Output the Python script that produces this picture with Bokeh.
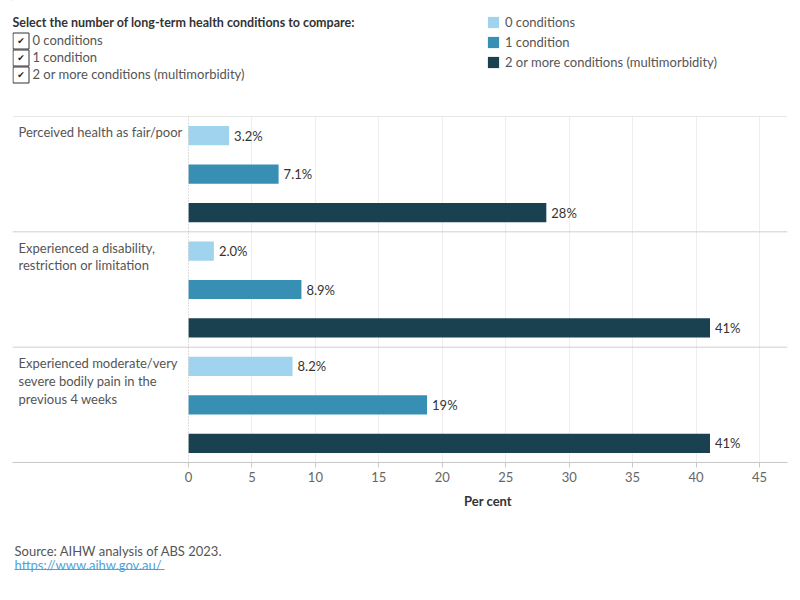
from bokeh.plotting import figure
from bokeh.models import ColumnDataSource, Range1d, FixedTicker, Span, Legend, LegendItem
from bokeh.layouts import column
from bokeh.embed import file_html
from bokeh.resources import INLINE
from bokeh.core.properties import value

# ---------------- data ----------------
categories = [
    "Perceived health as fair/poor",
    "Experienced a disability,\nrestriction or limitation",
    "Experienced moderate/very\nsevere bodily pain in the\nprevious 4 weeks",
]
series = ["0 conditions", "1 condition", "2 or more conditions (multimorbidity)"]
vals_0 = [3.2, 2.0, 8.2]
vals_1 = [7.1, 8.9, 18.8]
vals_2 = [28.2, 41.1, 41.1]
labels_0 = ["3.2%", "2.0%", "8.2%"]
labels_1 = ["7.1%", "8.9%", "19%"]
labels_2 = ["28%", "41%", "41%"]
x_ticks = [0, 5, 10, 15, 20, 25, 30, 35, 40, 45]
title_text = "Select the number of long-term health conditions to compare:"
source_text = "Source: AIHW analysis of ABS 2023."
link_text = "https://www.aihw.gov.au/"
axis_title = "Per cent"

colors = ["#a0d4ee", "#3790b4", "#1a4150"]
FONT = "Lato"
FS = "13px"
TXT = "#555555"

# frame of every panel is aligned to page x 12..787
FL, FR = 12, 787

# ---------------- header ----------------
hdr = figure(width=800, height=115, x_range=Range1d(FL, FR), y_range=Range1d(115, 0),
             output_backend="svg", toolbar_location=None, x_axis_location=None,
             y_axis_location=None, min_border=0)
hdr.outline_line_color = None
hdr.grid.visible = False

hdr.text(x=[12], y=[22], text=[title_text], text_font=value(FONT), text_font_size="12.5px",
         text_font_style="bold", text_color="#333333", text_baseline="middle")
box_y = [40.5, 57.5, 74.5]
hdr.rect(x=[20.5] * 3, y=box_y, width=16, height=16, fill_color="white",
         line_color="#333333", line_width=1)
hdr.text(x=[20.5] * 3, y=box_y, text=["\u2714"] * 3, text_font=value("DejaVu Sans"),
         text_font_size="9px", text_color="#222222", text_align="center",
         text_baseline="middle")
hdr.text(x=[32] * 3, y=[39.5, 56.5, 73.5], text=series, text_font=value(FONT),
         text_font_size=FS, text_color=TXT, text_baseline="middle")

dummies = []
for c in colors:
    r = hdr.hbar(y=[-1000], left=[0], right=[1], height=1, fill_color=c, line_color=None)
    dummies.append(r)
legend = Legend(items=[LegendItem(label=s, renderers=[r]) for s, r in zip(series, dummies)],
                location=(486 - FL, 45), padding=0, margin=0, spacing=4,
                glyph_width=14, glyph_height=14, label_height=14, label_standoff=5,
                label_text_font=FONT, label_text_font_size=FS, label_text_color=TXT,
                border_line_alpha=0, background_fill_alpha=0)
hdr.add_layout(legend)

# ---------------- main chart ----------------
PX = (759 - 188) / 45.0
x_start = -(188 - FL) / PX
x_end = (FR - 188) / PX

p = figure(width=800, height=377, x_range=Range1d(x_start, x_end), y_range=Range1d(9, 0),
           output_backend="svg", toolbar_location=None, y_axis_location=None,
           min_border_left=FL, min_border_right=800 - FR, min_border_top=1, min_border_bottom=30)
p.outline_line_color = None
p.ygrid.visible = False
p.xgrid.ticker = FixedTicker(ticks=x_ticks[1:])
p.xgrid.grid_line_color = "#eeeeee"

ax = p.xaxis[0]
ax.ticker = FixedTicker(ticks=x_ticks)
ax.axis_line_color = "#c8c8c8"
ax.major_tick_line_color = "#c8c8c8"
ax.major_tick_in = 0
ax.major_tick_out = 5
ax.minor_tick_line_color = None
ax.major_label_text_font = FONT
ax.major_label_text_font_size = FS
ax.major_label_text_color = "#666666"
ax.major_label_standoff = 4

for yv in [0, 3, 6]:
    p.add_layout(Span(location=yv, dimension="width", line_color="#cfcfcf", line_width=1))
p.add_layout(Span(location=0, dimension="height", line_color="#bbbbbb", line_width=1,
                  line_dash="1 2"))

for j, (vals, labs) in enumerate([(vals_0, labels_0), (vals_1, labels_1), (vals_2, labels_2)]):
    ys = [3 * i + j + 0.5 for i in range(len(categories))]
    src = ColumnDataSource(dict(y=ys, x=vals, lab=labs))
    p.hbar(y="y", left=0, right="x", height=0.5, source=src, fill_color=colors[j],
           line_color=None)
    p.text(x="x", y="y", text="lab", source=src, x_offset=5, text_baseline="middle",
           text_font=value(FONT), text_font_size=FS, text_color="#333333")

cat_x = (18 - 188) / PX
p.text(x=[cat_x] * 3, y=[3 * i + 0.2 for i in range(3)], text=categories,
       text_baseline="top", text_align="left", text_line_height=1.12,
       text_font=value(FONT), text_font_size=FS, text_color=TXT)

# ---------------- footer (axis title + source) ----------------
# footer page top = 115 + 377 = 492
ftr = figure(width=800, height=108, x_range=Range1d(FL, FR), y_range=Range1d(108, 0),
             output_backend="svg", toolbar_location=None, x_axis_location=None,
             y_axis_location=None, min_border=0)
ftr.outline_line_color = None
ftr.grid.visible = False
ftr.text(x=[(188 + FR) / 2], y=[8], text=[axis_title], text_font=value(FONT),
         text_font_size=FS, text_font_style="bold", text_color="#333333",
         text_align="center", text_baseline="middle")
ftr.text(x=[14], y=[58], text=[source_text], text_font=value(FONT), text_font_size=FS,
         text_color=TXT, text_baseline="middle")
ftr.text(x=[14], y=[72], text=[link_text], text_font=value(FONT), text_font_size=FS,
         text_color="#4fa3d9", text_baseline="middle")
ftr.segment(x0=[14], y0=[77], x1=[164], y1=[77], line_color="#4fa3d9", line_width=1)

layout = column(hdr, p, ftr, spacing=0)
open("out.html", "w").write(file_html(layout, INLINE))
